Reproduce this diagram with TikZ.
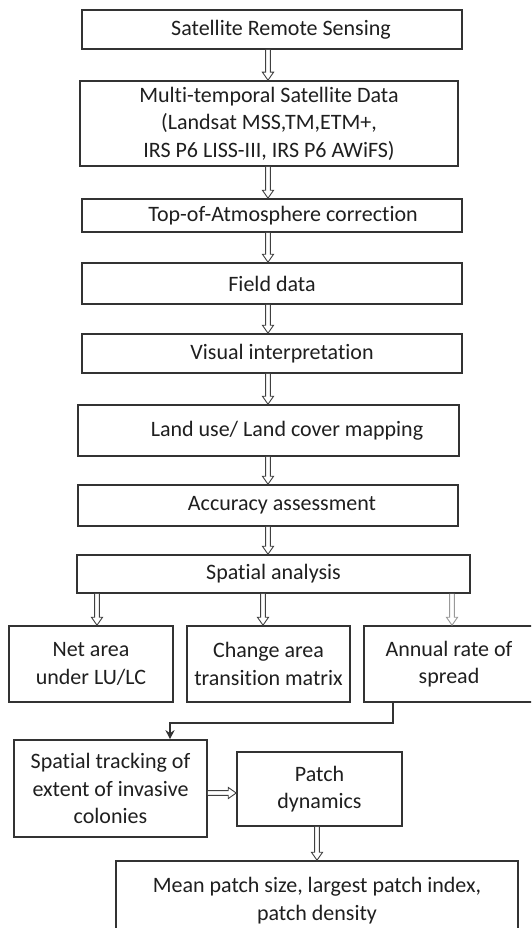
\documentclass[tikz,border=0pt]{standalone}
\usepackage{fontspec}
\setmainfont{Carlito}[Ligatures=NoCommon]
\usetikzlibrary{arrows.meta,calc}
\newcommand\hollowarrow[3][black!75]{%
  \draw[line width=0.9pt, draw=#1, fill=white, line join=miter]
    let \p1=(#2), \p2=(#3), \p3=($(\p2)!8pt!(\p1)$) in
    ($(\p1)!2.4pt!90:(\p2)$) -- ($(\p3)!2.4pt!90:(\p2)$) -- ($(\p3)!5.6pt!90:(\p2)$)
    -- (\p2) -- ($(\p3)!5.6pt!-90:(\p2)$) -- ($(\p3)!2.4pt!-90:(\p2)$)
    -- ($(\p1)!2.4pt!-90:(\p2)$);}
\begin{document}
\begin{tikzpicture}[x=1pt,y=-1pt,
  box/.style={draw=black!80, line width=1.6pt, align=center, inner sep=0pt,
    font=\fontsize{22}{27.5}\selectfont, text=black!88},
  elb/.style={draw=black!80, line width=1.6pt, -{Stealth[length=9pt,width=9pt]}}
]
\useasboundingbox (0,0) rectangle (531,928);
\clip (0,0) rectangle (531,928);
\fill[white] (0,0) rectangle (531,928);

\node[box, minimum width=380pt, minimum height=39pt] (b1) at (272,29.5) {\hspace*{18pt}Satellite Remote Sensing};
\node[box, minimum width=378pt, minimum height=85pt] (b2) at (269,123.5) {Multi-temporal Satellite Data\\(Landsat MSS,TM,ETM+,\\IRS P6 LISS-III, IRS P6 AWiFS)};
\node[box, minimum width=380pt, minimum height=33pt] (b3) at (272,215.5) {\hspace*{22pt}Top-of-Atmosphere correction};
\node[box, minimum width=380pt, minimum height=41pt] (b4) at (272,283.5) {Field data};
\node[box, minimum width=380pt, minimum height=39pt] (b5) at (272,353.5) {\hspace*{20pt}Visual interpretation};
\node[box, minimum width=381pt, minimum height=51pt] (b6) at (268.5,430.5) {\hspace*{37pt}Land use/ Land cover mapping};
\node[box, minimum width=380pt, minimum height=41pt] (b7) at (268,505.5) {\hspace*{28pt}Accuracy assessment};
\node[box, minimum width=393pt, minimum height=38pt] (b8) at (273.5,574) {Spatial analysis};

\node[box, minimum width=164pt, minimum height=76pt] (A) at (91,664) {Net area\\under LU/LC};
\node[box, minimum width=163pt, minimum height=76pt] (B) at (268.5,664) {Change area\\transition matrix};
\node[box, minimum width=170pt, minimum height=76pt] (C) at (449,664) {Annual rate of\\spread};

\node[box, minimum width=193pt, minimum height=97pt] (D) at (110.5,788.5) {Spatial tracking of\\extent of invasive\\colonies};
\node[box, minimum width=165pt, minimum height=74pt] (E) at (319.5,789) {Patch\\dynamics};
\node[box, minimum width=402pt, minimum height=79pt] (F) at (317,900.5) {Mean patch size, largest patch index,\\patch density};

\coordinate (cx) at (268,0);
\hollowarrow{b1.south -| cx}{b2.north -| cx}
\hollowarrow{b2.south -| cx}{b3.north -| cx}
\hollowarrow{b3.south -| cx}{b4.north -| cx}
\hollowarrow{b4.south -| cx}{b5.north -| cx}
\hollowarrow{b5.south -| cx}{b6.north -| cx}
\hollowarrow{b6.south -| cx}{b7.north -| cx}
\hollowarrow{b7.south -| cx}{b8.north -| cx}

\coordinate (ax) at (97,0);
\coordinate (bx) at (263,0);
\coordinate (ccx) at (452,0);
\hollowarrow{b8.south -| ax}{A.north -| ax}
\hollowarrow{b8.south -| bx}{B.north -| bx}
\hollowarrow[black!40]{b8.south -| ccx}{C.north -| ccx}

\coordinate (ex) at (393,0);
\coordinate (dx) at (170,0);
\draw[elb] (C.south -| ex) -- ++(0,20) -| (D.north -| dx);

\coordinate (hy) at (0,793);
\hollowarrow{D.east |- hy}{E.west |- hy}
\hollowarrow{E.south -| F.north}{F.north}
\end{tikzpicture}
\end{document}
